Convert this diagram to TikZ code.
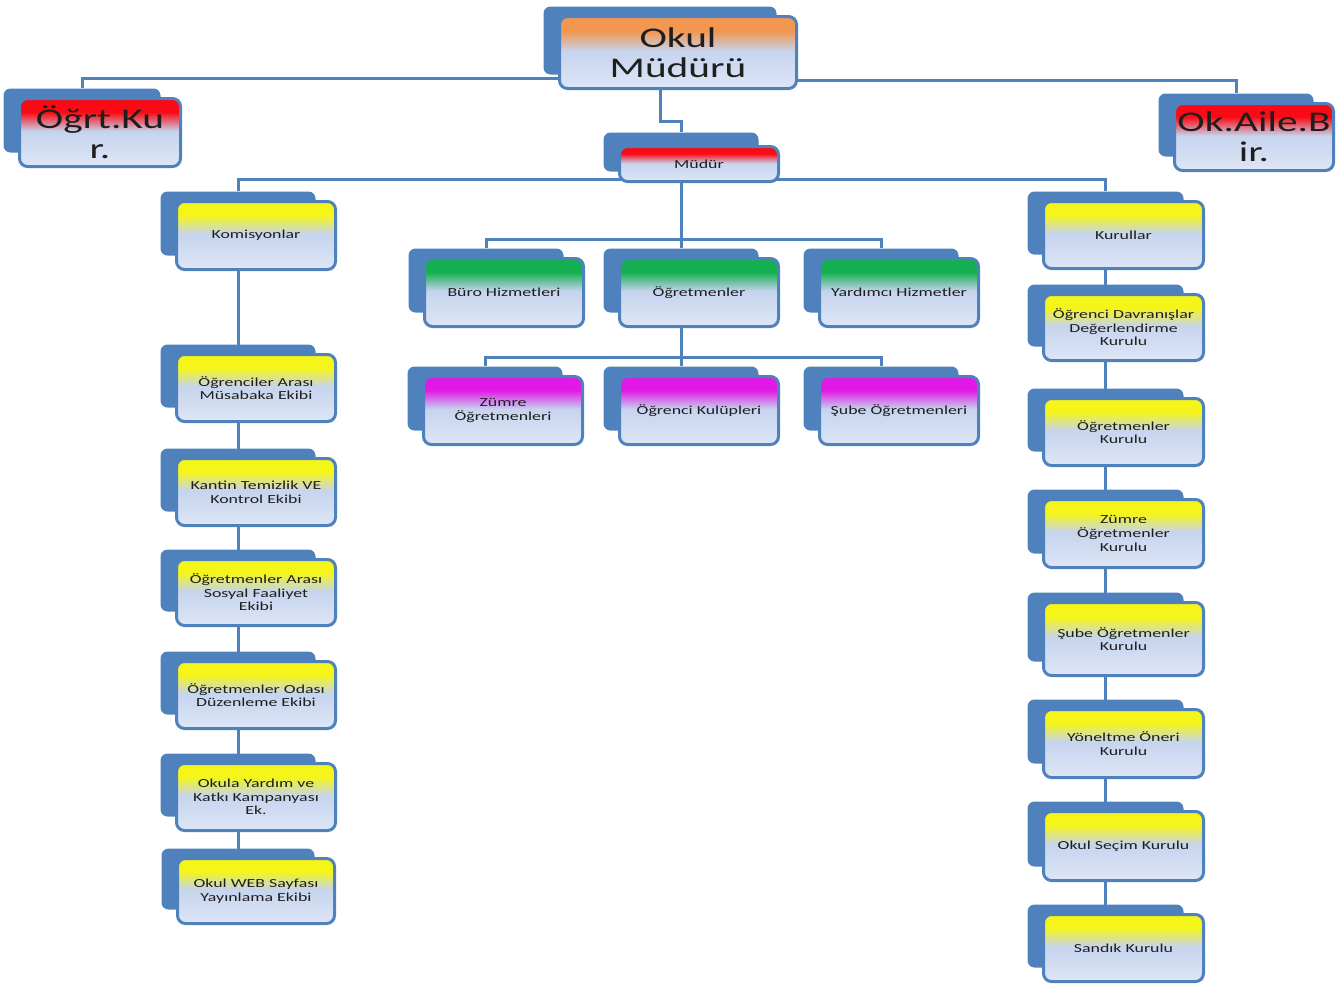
\documentclass[tikz,border=0pt]{standalone}
\usepackage{fontspec}
\setmainfont{Carlito}[FakeStretch=1.45]
\usetikzlibrary{backgrounds,calc}
\definecolor{bblue}{RGB}{79,129,189}
\definecolor{lbA}{RGB}{198,212,238}
\definecolor{lbB}{RGB}{222,230,246}
\definecolor{txt}{RGB}{30,30,30}
\definecolor{corange}{RGB}{242,150,80}
\definecolor{cred}{RGB}{250,10,20}
\definecolor{cyellow}{RGB}{245,245,25}
\definecolor{cgreen}{RGB}{20,175,80}
\definecolor{cmag}{RGB}{225,25,230}
\colorlet{tcol}{cyellow}
\pgfdeclareverticalshading[tcol]{boxshade}{100bp}{color(0bp)=(lbB); color(25bp)=(lbB); color(51bp)=(lbA); color(65bp)=(tcol); color(100bp)=(tcol)}
\newcommand\smf{\fontsize{12.3}{13.6}\selectfont}
\newcommand\bgf{\fontsize{28.5}{30}\selectfont}
\newcommand\obox[9][7]{%
  \colorlet{tcol}{#7}%
  \node[backbox, minimum width={#5pt-7pt}, minimum height={#6pt-#1pt}] (#2B) at ({#3-18},{#4-12}) {};
  \node[frontbox, minimum width={#5pt-3pt}, minimum height={#6pt-3pt}, font=#8] (#2) at (#3,#4) {#9};
}
\tikzset{
  backbox/.style={fill=bblue, draw=none, rounded corners=7pt, inner sep=0pt},
  frontbox/.style={draw=bblue, line width=3pt, rounded corners=8pt, shade, shading=boxshade, inner sep=0pt, align=center, text=txt},
  conn/.style={draw=bblue, line width=3pt}
}
\begin{document}
\begin{tikzpicture}[x=1pt,y=-1pt]
\useasboundingbox (0,0) rectangle (1341,983);
% top level
\obox{okul}{678}{52.5}{240}{75}{corange}{\bgf}{Okul\\Müdürü}
\obox{ogrt}{100}{132.5}{164}{71}{cred}{\bgf}{Öğrt.Ku\\r.}
\obox{aile}{1254}{137}{162}{70}{cred}{\bgf}{Ok.Aile.B\\ir.}
\obox[-1]{mudur}{699}{164}{162}{38}{cred}{\smf}{Müdür}
% left column
\obox{kom}{256}{235.5}{162}{71}{cyellow}{\smf}{Komisyonlar}
\obox{ogra}{256}{388}{162}{70}{cyellow}{\smf}{Öğrenciler Arası\\Müsabaka Ekibi}
\obox{kantin}{256}{492}{162}{70}{cyellow}{\smf}{Kantin Temizlik VE\\Kontrol Ekibi}
\obox{sosyal}{256}{592.5}{162}{69}{cyellow}{\smf}{Öğretmenler Arası\\Sosyal Faaliyet\\Ekibi}
\obox{odasi}{256}{695}{162}{70}{cyellow}{\smf}{Öğretmenler Odası\\Düzenleme Ekibi}
\obox{okula}{256}{797}{162}{70}{cyellow}{\smf}{Okula Yardım ve\\Katkı Kampanyası\\Ek.}
\obox{web}{256}{891}{160}{68}{cyellow}{\smf}{Okul WEB Sayfası\\Yayınlama Ekibi}
% middle
\obox{buro}{504}{292.5}{162}{71}{cgreen}{\smf}{Büro Hizmetleri}
\obox{ogr}{699}{292.5}{162}{71}{cgreen}{\smf}{Öğretmenler}
\obox{yar}{899}{292.5}{162}{71}{cgreen}{\smf}{Yardımcı Hizmetler}
\obox{zumre}{503}{410.5}{162}{71}{cmag}{\smf}{Zümre\\Öğretmenleri}
\obox{kulup}{699}{410.5}{162}{71}{cmag}{\smf}{Öğrenci Kulüpleri}
\obox{sube}{899}{410.5}{162}{71}{cmag}{\smf}{Şube Öğretmenleri}
% right column
\obox{kur}{1123.5}{235}{163}{70}{cyellow}{\smf}{Kurullar}
\obox{dav}{1123.5}{327.5}{163}{69}{cyellow}{\smf}{Öğrenci Davranışlar\\Değerlendirme\\Kurulu}
\obox{ogk}{1123.5}{432}{163}{70}{cyellow}{\smf}{Öğretmenler\\Kurulu}
\obox{zok}{1123.5}{533.5}{163}{71}{cyellow}{\smf}{Zümre\\Öğretmenler\\Kurulu}
\obox{sok}{1123.5}{639}{163}{76}{cyellow}{\smf}{Şube Öğretmenler\\Kurulu}
\obox{yon}{1123.5}{743.5}{163}{71}{cyellow}{\smf}{Yöneltme Öneri\\Kurulu}
\obox{sec}{1123.5}{846}{163}{72}{cyellow}{\smf}{Okul Seçim Kurulu}
\obox{san}{1123.5}{948}{163}{70}{cyellow}{\smf}{Sandık Kurulu}
\begin{pgfonlayer}{background}
\draw[conn] ([yshift=12pt]okul.south west) -| (ogrtB.north);
\draw[conn] ([yshift=10pt]okul.south east) -| (aileB.north);
\draw[conn] (okulB.south) |- ([yshift=11pt]mudurB.north) -- (mudurB.north);
\draw[conn] (komB.north) |- ([yshift=4pt]mudur.south) -| (kurB.north);
\draw[conn] (mudurB.south) -- (ogrB.north);
\draw[conn] (buroB.north) |- ([yshift=9pt]ogrB.north) -| (yarB.north);
\draw[conn] (ogrB.south) -- (kulupB.north);
\draw[conn] (zumreB.north) |- ([yshift=9pt]kulupB.north) -| (subeB.north);
\draw[conn] (komB.center) -- (webB.center);
\draw[conn] (kurB.center) -- (sanB.center);
\end{pgfonlayer}
\end{tikzpicture}
\end{document}
